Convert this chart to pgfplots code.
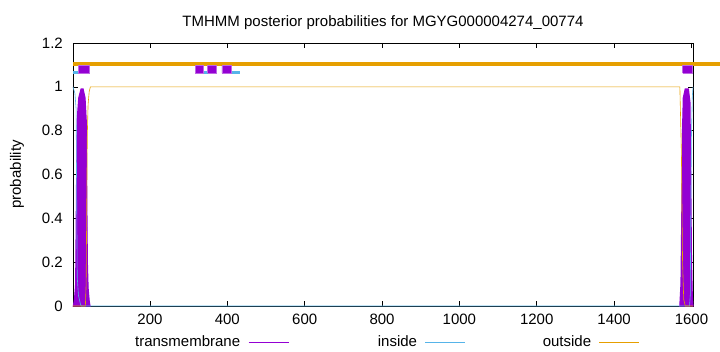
\documentclass[border=0pt]{standalone}
\usepackage{pgfplots}
\pgfplotsset{compat=1.18}
\usepackage{fontspec}
\setmainfont{Liberation Sans}
\definecolor{tmc}{HTML}{9400D3}
\definecolor{inc}{HTML}{56B4E9}
\definecolor{outc}{HTML}{E69F00}
\begin{document}
\fontsize{15}{18}\selectfont
\begin{tikzpicture}[x=1pt,y=1pt]
\useasboundingbox (-73,-46) rectangle (647,306);
\begin{axis}[
  at={(0,0)}, anchor=south west,
  scale only axis, width=620pt, height=263pt,
  xmin=1, xmax=1604, ymin=0, ymax=1.2,
  xtick={200,400,600,800,1000,1200,1400,1600},
  ytick={0,0.2,0.4,0.6,0.8,1,1.2},
  yticklabels={0,0.2,0.4,0.6,0.8,1,1.2},
  /pgf/number format/assume math mode=true,
  /pgf/number format/1000 sep={},
  tick align=inside, major tick length=5pt,
  axis line style={black, line width=0.8pt},
  every tick/.style={black, line width=0.6pt},
  clip=false,
  title={TMHMM posterior probabilities for MGYG000004274\_00774},
  title style={at={(axis description cs:0.5,1)}, anchor=center, yshift=14pt, font=\fontsize{15}{18}\selectfont},
  ylabel={probability},
  ylabel style={at={(axis description cs:-0.0903,0.5)}, anchor=center},
  ticklabel style={font=\fontsize{15}{18}\selectfont},
  yticklabel style={xshift=-5pt},
  xticklabel style={yshift=-3pt},
  legend plot pos=right,
  legend image code/.code={\draw[#1] (0pt,0pt) -- (40pt,0pt);},
  legend columns=3,
  legend style={draw=none, fill=none, at={(axis description cs:0.5056,-0.137)}, anchor=center, column sep=6pt, font=\fontsize{15}{18}\selectfont},
]
% transmembrane posterior (left helix)
\addplot[fill=tmc, draw=tmc, line width=1.2pt, forget plot] coordinates {
 (2,0) (5,0.03) (8,0.1) (10,0.5) (12,0.85) (16,0.95) (22,0.99) (27,0.99) (32,0.95) (35,0.85) (36.5,0.5) (38,0.2) (40,0.08) (43,0.02) (45,0)
} \closedcycle;
% transmembrane posterior (right helix)
\addplot[fill=tmc, draw=tmc, line width=1.2pt, forget plot] coordinates {
 (1570,0) (1573,0.1) (1575,0.4) (1577,0.8) (1579,0.95) (1584,0.99) (1592,0.99) (1596,0.93) (1598,0.6) (1600,0.2) (1602,0.05) (1604,0)
} \closedcycle;
% inside
\addplot[inc, line width=0.6pt, forget plot] coordinates {
 (1,1) (6,0.97) (9,0.9) (10.5,0.5) (12,0.13) (15,0.05) (20,0.01) (22,0) (1595,0) (1597,0.05) (1598,0.35) (1600,0.78) (1602,0.95) (1604,1)
};
% outside
\addplot[outc, line width=0.6pt, forget plot] coordinates {
 (1,0) (33,0) (35,0.1) (36.5,0.45) (38,0.78) (40,0.92) (43,0.98) (46,1) (1570,1) (1574,0.7) (1577,0.2) (1580,0.03) (1584,0) (1604,0)
};
% top topology bars
\addplot[outc, line width=4pt, forget plot] coordinates {(1,1.105) (1674,1.105)};
\addplot[inc, line width=3pt, forget plot] coordinates {(1,1.067) (14,1.067)};
\addplot[inc, line width=3pt, forget plot] coordinates {(338,1.067) (349,1.067)};
\addplot[inc, line width=3pt, forget plot] coordinates {(409,1.067) (433,1.067)};
\addplot[fill=tmc, draw=tmc!60, line width=0.6pt, forget plot] coordinates {(14,1.062) (42,1.062) (42,1.099) (14,1.099) (14,1.062)};
\addplot[fill=tmc, draw=tmc!60, line width=0.6pt, forget plot] coordinates {(317,1.062) (338,1.062) (338,1.099) (317,1.099) (317,1.062)};
\addplot[fill=tmc, draw=tmc!60, line width=0.6pt, forget plot] coordinates {(349,1.062) (371,1.062) (371,1.099) (349,1.099) (349,1.062)};
\addplot[fill=tmc, draw=tmc!60, line width=0.6pt, forget plot] coordinates {(386,1.062) (409,1.062) (409,1.099) (386,1.099) (386,1.062)};
\addplot[fill=tmc, draw=tmc!60, line width=0.6pt, forget plot] coordinates {(1577,1.062) (1601,1.062) (1601,1.099) (1577,1.099) (1577,1.062)};
% legend
\addlegendimage{tmc, line width=0.7pt}
\addlegendentry{transmembrane}
\addlegendimage{inc, line width=0.7pt}
\addlegendentry{\hspace{81pt}inside}
\addlegendimage{outc, line width=0.7pt}
\addlegendentry{\hspace{69pt}outside}
\end{axis}
\end{tikzpicture}
\end{document}
